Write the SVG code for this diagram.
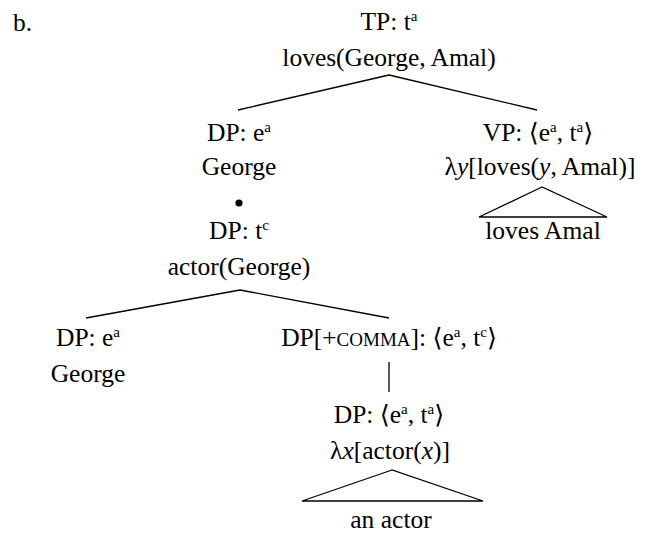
<svg xmlns="http://www.w3.org/2000/svg" width="645" height="535" viewBox="0 0 645 535">
<style>
text{font-family:"Liberation Serif","DejaVu Serif",serif;font-size:25.5px;fill:#000;text-anchor:middle}
.sup{font-size:15px}
.sc{font-size:19px}
.it{font-style:italic}
.ln{stroke:#000;stroke-width:1.3;fill:none}
</style>
<rect width="645" height="535" fill="#fff"/>
<text x="13" y="31" style="text-anchor:start">b.</text>
<g id="tp">
<text x="389" y="30">TP: t<tspan class="sup" dy="-9">a</tspan></text>
<text x="389" y="66">loves(George, Amal)</text>
</g>
<g id="dp-george-top">
<text x="239" y="141">DP: e<tspan class="sup" dy="-9">a</tspan></text>
<text x="239" y="175">George</text>
<circle cx="239" cy="203" r="3.6" fill="#000"/>
</g>
<g id="dp-tc">
<text x="239" y="239">DP: t<tspan class="sup" dy="-9">c</tspan></text>
<text x="239" y="275">actor(George)</text>
</g>
<g id="vp">
<text x="538" y="141">VP: ⟨e<tspan class="sup" dy="-9">a</tspan><tspan dy="9">, t</tspan><tspan class="sup" dy="-9">a</tspan><tspan dy="9">⟩</tspan></text>
<text x="540" y="175">λ<tspan class="it">y</tspan>[loves(<tspan class="it">y</tspan>, Amal)]</text>
</g>
<g id="vp-leaf">
<text x="543" y="239">loves Amal</text>
</g>
<g id="dp-george-bottom">
<text x="88" y="346">DP: e<tspan class="sup" dy="-9">a</tspan></text>
<text x="88" y="382">George</text>
</g>
<g id="dp-comma">
<text x="389" y="346">DP[+<tspan class="sc">COMMA</tspan>]: ⟨e<tspan class="sup" dy="-9">a</tspan><tspan dy="9">, t</tspan><tspan class="sup" dy="-9">c</tspan><tspan dy="9">⟩</tspan></text>
</g>
<g id="dp-eta">
<text x="389" y="423">DP: ⟨e<tspan class="sup" dy="-9">a</tspan><tspan dy="9">, t</tspan><tspan class="sup" dy="-9">a</tspan><tspan dy="9">⟩</tspan></text>
<text x="390" y="459">λ<tspan class="it">x</tspan>[actor(<tspan class="it">x</tspan>)]</text>
</g>
<g id="dp-leaf">
<text x="391" y="528">an actor</text>
</g>
<g id="connectors">
<path class="ln" d="M389 75 L238 110 M389 75 L537 110"/>
<path class="ln" d="M542 187 L479 217 L607 217 Z"/>
<path class="ln" d="M240 290 L86 318 M240 290 L389 318"/>
<path class="ln" d="M389 362 L389 392"/>
<path class="ln" d="M392 470 L302 501 L483 501 Z"/>
</g>
</svg>
